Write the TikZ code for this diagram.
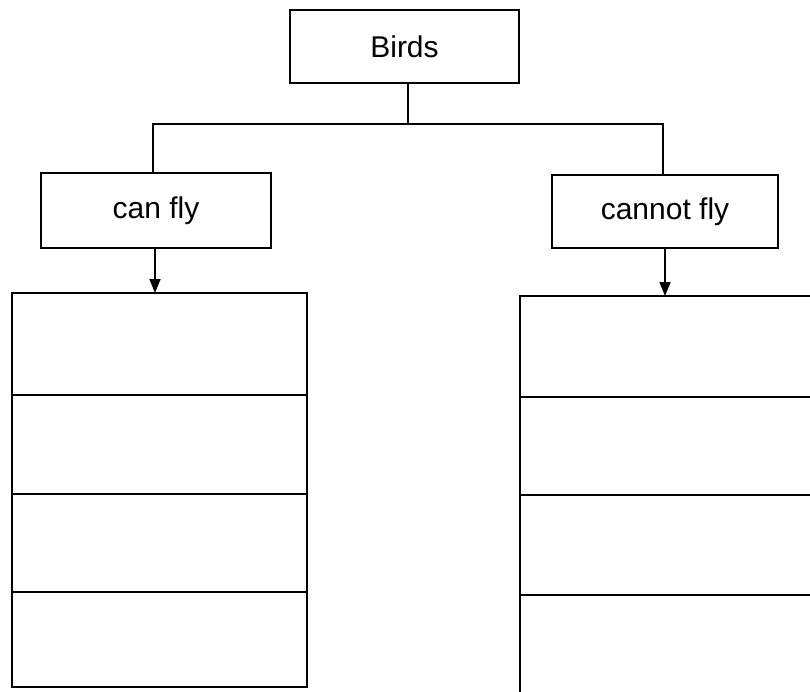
\documentclass[tikz,border=0pt]{standalone}
\usepackage{fontspec}
\setmainfont{Liberation Sans}
\usetikzlibrary{arrows.meta}
\begin{document}
\begin{tikzpicture}[x=1pt,y=-1pt,
  line width=1.6pt,
  box/.style={draw, rectangle, inner sep=0pt, outer sep=0pt, font=\fontsize{30}{34}\selectfont},
  cell/.style={draw, rectangle, inner sep=0pt, outer sep=0pt, anchor=north west},
  arr/.style={-{Triangle[length=14pt,width=11pt]}}]
\useasboundingbox (0,0) rectangle (810,691);
% top box
\node[box, minimum width=229pt, minimum height=73pt] (birds) at (404.5,46.5) {Birds};
\node[box, minimum width=230pt, minimum height=75pt] (can) at (156,210.5) {can fly};
\node[box, minimum width=226pt, minimum height=73pt] (cannot) at (665,211.5) {cannot fly};
% bus
\coordinate (bus) at (408,124);
\draw (birds.south -| bus) -- (bus);
\draw (can.north -| 153,0) |- (bus) -| (cannot.north -| 663,0);
% left table
\node[cell, minimum width=295pt, minimum height=102pt] (L1) at (12,293) {};
\node[cell, minimum width=295pt, minimum height=99pt] (L2) at (L1.south west) {};
\node[cell, minimum width=295pt, minimum height=98pt] (L3) at (L2.south west) {};
\node[cell, minimum width=295pt, minimum height=95pt] (L4) at (L3.south west) {};
% right table (runs off the right and bottom edges)
\node[cell, minimum width=310pt, minimum height=101pt] (R1) at (520,296) {};
\node[cell, minimum width=310pt, minimum height=98pt] (R2) at (R1.south west) {};
\node[cell, minimum width=310pt, minimum height=100pt] (R3) at (R2.south west) {};
\node[cell, minimum width=310pt, minimum height=120pt] (R4) at (R3.south west) {};
% arrows
\draw[arr] (can.south -| 155,0) -- (L1.north -| 155,0);
\draw[arr] (cannot.south -| 665,0) -- (R1.north -| 665,0);
\end{tikzpicture}
\end{document}
